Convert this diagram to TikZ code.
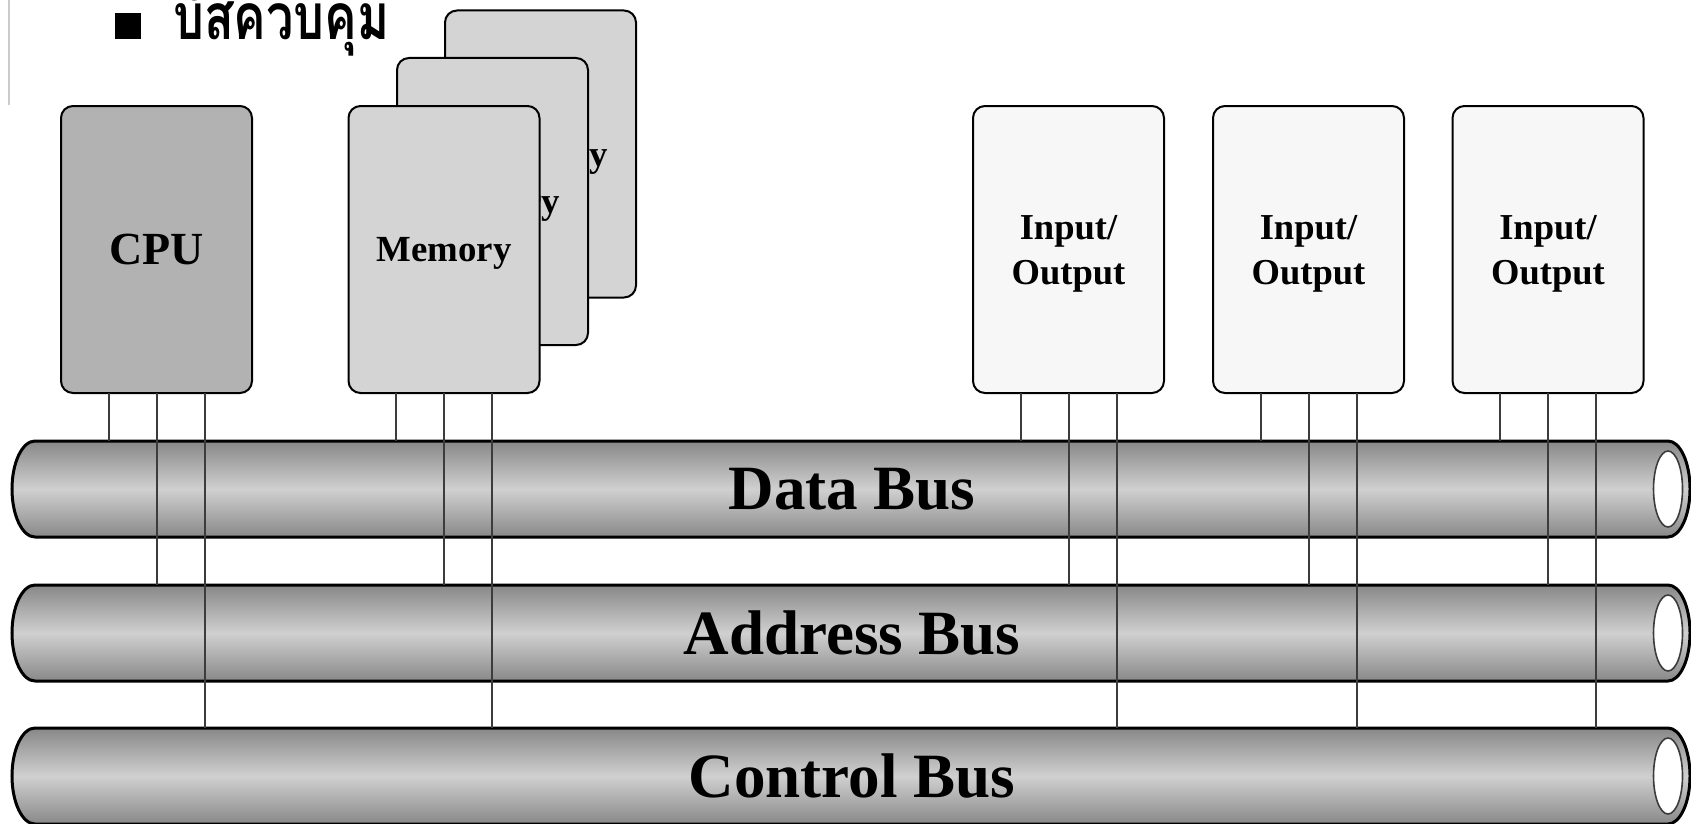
\documentclass[tikz,border=0pt]{standalone}
\usepackage{fontspec}
\setmainfont{Liberation Serif}
\newfontfamily\thaifont[Script=Thai,FakeStretch=0.76]{Loma}
\definecolor{cpugray}{HTML}{B2B2B2}
\definecolor{memgray}{HTML}{D4D4D4}
\definecolor{iogray}{HTML}{F7F7F7}
\definecolor{wiregray}{HTML}{3C3C3C}
\definecolor{busdark}{HTML}{888888}
\definecolor{buslight}{HTML}{D0D0D0}
\definecolor{edgegray}{HTML}{CCCCCC}
\newcommand\lowtext[1]{\raisebox{-3.2pt}[\height][\depth]{#1}}
\begin{document}
\begin{tikzpicture}[x=0.75pt,y=-0.75pt,
  box/.style={draw=black, line width=1.5pt, rounded corners=9pt, minimum width=143.25pt, minimum height=215.25pt, inner sep=0pt, outer sep=0pt},
  cpubox/.style={box, fill=cpugray, font=\fontsize{34.5}{40}\selectfont\bfseries},
  membox/.style={box, fill=memgray, font=\fontsize{27.6}{32}\selectfont\bfseries},
  iobox/.style={box, fill=iogray, align=center, font=\fontsize{27.4}{33.6}\selectfont\bfseries},
  wire/.style={draw=wiregray, line width=1.5pt},
  busbody/.style={draw=black, line width=2.25pt, top color=busdark, bottom color=busdark, middle color=buslight},
  busend/.style={draw=wiregray, line width=1.2pt, fill=white},
  buslabel/.style={inner sep=0pt, font=\fontsize{47.3}{52}\selectfont\bfseries}]
\useasboundingbox (0,0) rectangle (1691,824);
% left margin line
\draw[draw=edgegray, line width=1.5pt] (9,0) -- (9,105);
% title
\node[fill=black, minimum size=19pt, inner sep=0pt, anchor=north west] (bullet) at (115,13) {};
\node[anchor=base west, inner sep=0pt, font=\thaifont\fontsize{48}{52}\selectfont\bfseries] (title) at (173,40) {บัสควบคุม};
% boxes
\node[cpubox] (cpu) at (156.5,249.5) {CPU};
\node[membox] (mem3) at (540.5,154) {\lowtext{Memory}};
\node[membox] (mem2) at (492.5,201.5) {\lowtext{Memory}};
\node[membox] (mem) at (444,249.5) {\lowtext{Memory}};
\node[iobox] (io1) at (1068.5,249.5) {\lowtext{Input/}\\\lowtext{Output}};
\node[iobox] (io2) at (1308.5,249.5) {\lowtext{Input/}\\\lowtext{Output}};
\node[iobox] (io3) at (1548,249.5) {\lowtext{Input/}\\\lowtext{Output}};
% buses
\foreach \c/\n/\t in {489/databus/Data Bus,633/addrbus/Address Bus,776/ctrlbus/Control Bus}{
  \path[busbody] (35,\c-48) -- (1668,\c-48)
    arc[start angle=-90, end angle=90, x radius=22, y radius=48]
    -- (35,\c+48)
    arc[start angle=90, end angle=270, x radius=23, y radius=48] -- cycle;
  \path[busend] (1668,\c) ellipse[x radius=14.5, y radius=38];
  \node[buslabel] (\n) at (852,\c) {\t};
}
\coordinate (dtop) at (0,441);
\coordinate (atop) at (0,585);
\coordinate (ctop) at (0,728);
% wires
\foreach \b in {cpu,mem,io1,io2,io3}{
  \coordinate (\b-l) at ([xshift=-36pt]\b.south);
  \coordinate (\b-m) at (\b.south);
  \coordinate (\b-r) at ([xshift=36pt]\b.south);
  \draw[wire] (\b-l) -- (\b-l |- dtop);
  \draw[wire] (\b-m) -- (\b-m |- atop);
  \draw[wire] (\b-r) -- (\b-r |- ctop);
}
\end{tikzpicture}
\end{document}
